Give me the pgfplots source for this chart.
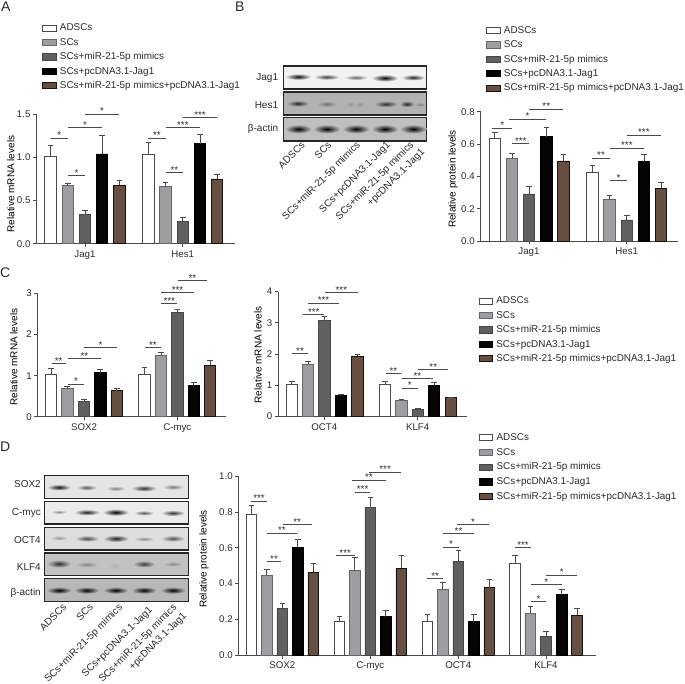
\documentclass[border=0pt]{standalone}
\usepackage{fontspec}
\setmainfont{Liberation Sans}
\usepackage{pgfplots}
\pgfplotsset{compat=1.18}
\definecolor{axc}{HTML}{4A4A4A}
\definecolor{txt}{HTML}{2A2A2A}
\definecolor{cB}{HTML}{9E9EA2}
\definecolor{cC}{HTML}{606060}
\definecolor{cD}{HTML}{050303}
\definecolor{cE}{HTML}{664E40}
\pgfplotsset{
 swatch/.style={legend image code/.code={\draw[##1,line width=0.9pt] (0pt,-3.1pt) rectangle (13.4pt,3.1pt);}},
 s1/.style={draw=axc,fill=white},
 s2/.style={draw=black!60,fill=cB},
 s3/.style={draw=black!72,fill=cC},
 s4/.style={draw=black,fill=cD},
 s5/.style={draw=black!78!cE,fill=cE},
 panel/.style={scale only axis,axis lines=left,axis line style={-,draw=axc,line width=0.9pt},clip=false,ymin=0,
  tick align=outside,major tick length=3.5pt,tick style={draw=axc,line width=0.8pt},minor tick num=0,
  tick label style={font=\fontsize{9.7}{11}\selectfont,text=txt},
  yticklabel style={/pgf/number format/assume math mode=true,/pgf/number format/fixed,/pgf/number format/fixed zerofill,/pgf/number format/precision=1,xshift=1pt},
  label style={font=\fontsize{10.45}{12}\selectfont,text=txt},
  legend cell align=left,
  legend style={draw=none,fill=none,inner sep=0pt,outer sep=0pt,anchor=north west,
    font=\fontsize{9.9}{11}\selectfont,text=txt,
    nodes={inner sep=0pt,text height=7.4pt,text depth=2pt},
    /tikz/column 1/.style={column sep=3.3pt}}},
 rowgap/.style={legend style={row sep=#1}},
 intlab/.style={yticklabel style={/pgf/number format/precision=0,/pgf/number format/fixed zerofill=false}},
 yl/.style 2 args={every axis y label/.style={at={(axis cs:#1,#2)},rotate=90,anchor=center}}
}
\newcommand{\bars}[3]{\addplot[ybar,bar shift=0pt,bar width=#2pt,#1,line width=0.9pt,swatch,
   error bars/.cd,y dir=plus,y explicit,error bar style={draw=axc,line width=0.8pt,solid},
   error mark options={rotate=90,mark size=2.8pt,line width=0.8pt,draw=axc}] coordinates {#3};}
\newcommand{\sig}[4]{\addplot[forget plot,draw=axc,line width=0.7pt] coordinates {(#1,#3)(#2,#3)};
   \node[font=\fontsize{9.8}{10}\selectfont,text=txt,inner sep=0pt,yshift=2.7pt] at (axis cs:{(#1+#2)/2},#3) {#4};}
\newcommand{\legentries}{\addlegendentry{ADSCs}\addlegendentry{SCs}\addlegendentry{SCs+miR-21-5p mimics}\addlegendentry{SCs+pcDNA3.1-Jag1}\addlegendentry{SCs+miR-21-5p mimics+pcDNA3.1-Jag1}}
\newcommand{\band}[5]{\shade[inner color=black!#5,outer color=\bg] (#1,#2) ellipse (#3pt and #4pt);}
\newcommand{\blot}[4]{\def\bg{#4}\draw[line width=1.3pt,black!85,fill=\bg] (#1,#2) rectangle (#3);}
\begin{document}
\begin{tikzpicture}[font=\fontsize{10}{12}\selectfont]
\useasboundingbox (0pt,0pt) rectangle (685pt,683pt);
%----------------------- A
\begin{axis}[panel,rowgap=5pt,at={(36.5pt,439.3pt)},anchor=south west,width=198.5pt,height=129.4pt,
 xmin=36.5,xmax=235,ymax=1.5,ytick={0,0.5,1,1.5},xtick={85,182.7},xticklabels={Jag1,\raisebox{-3pt}{Hes1}},
 ylabel={Relative mRNA levels},yl={10.7}{0.692},
 legend style={at={(axis cs:42.3,2.552)}}]
\bars{s1}{11.3}{(50.5,1.01) +- (0,.13) (148.3,1.04) +- (0,.13)}
\bars{s2}{11.3}{(67.8,.67) +- (0,.03) (165.3,.66) +- (0,.05)}
\bars{s3}{11.3}{(85,.34) +- (0,.05) (182.7,.26) +- (0,.05)}
\bars{s4}{11.3}{(102,1.04) +- (0,.21) (200,1.16) +- (0,.11)}
\bars{s5}{11.3}{(119.3,.68) +- (0,.05) (217,.75) +- (0,.05)}
\legentries
\sig{50.7}{67.7}{1.225}{*}\sig{68}{85.3}{.789}{*}\sig{68}{102}{1.345}{*}\sig{85.3}{119}{1.5}{*}
\sig{148.3}{165.7}{1.225}{**}\sig{165.7}{183}{.827}{**}\sig{165.7}{200}{1.345}{***}\sig{183}{217}{1.46}{***}
\end{axis}
%----------------------- B
\begin{axis}[panel,rowgap=5pt,at={(480.7pt,442pt)},anchor=south west,width=197pt,height=129.3pt,
 xmin=480.7,xmax=677.7,ymax=.8,ytick={0,.2,.4,.6,.8},xtick={529,626.7},xticklabels={Jag1,\raisebox{-1.5pt}{Hes1}},
 ylabel={Relative protein levels},yl={453}{.384},
 legend style={at={(axis cs:486.3,1.331)}}]
\bars{s1}{11.3}{(494.7,.637) +- (0,.035) (592.3,.423) +- (0,.045)}
\bars{s2}{11.3}{(512,.511) +- (0,.031) (609.3,.254) +- (0,.026)}
\bars{s3}{11.3}{(529,.291) +- (0,.045) (626.7,.13) +- (0,.027)}
\bars{s4}{11.3}{(546.3,.645) +- (0,.055) (644,.493) +- (0,.043)}
\bars{s5}{11.3}{(563.3,.495) +- (0,.043) (661,.326) +- (0,.035)}
\legentries
\sig{492.3}{512.3}{.70}{*}\sig{512.3}{529.3}{.602}{***}\sig{509.3}{546}{.755}{*}\sig{529.3}{563.3}{.816}{**}
\sig{592.3}{609.7}{.513}{**}\sig{609.7}{627.3}{.375}{*}\sig{609.7}{644}{.575}{***}\sig{626.7}{661}{.656}{***}
\end{axis}
%----------------------- C left
\begin{axis}[panel,intlab,at={(37.7pt,266.1pt)},anchor=south west,width=188.3pt,height=123.6pt,
 xmin=37.7,xmax=226,ymax=3,ytick={0,1,2,3},xtick={84,177.3},xticklabels={\raisebox{-1pt}{SOX2},C-myc},
 ylabel={Relative mRNA levels},yl={13.7}{1.454}]
\bars{s1}{11.3}{(51,1.04) +- (0,.13) (144.3,1.02) +- (0,.18)}
\bars{s2}{11.3}{(67.3,.68) +- (0,.05) (161,1.5) +- (0,.07)}
\bars{s3}{11.3}{(84,.38) +- (0,.05) (177.3,2.53) +- (0,.08)}
\bars{s4}{11.3}{(100.3,1.07) +- (0,.09) (193.7,.77) +- (0,.07)}
\bars{s5}{11.3}{(116.7,.64) +- (0,.05) (210,1.25) +- (0,.11)}
\sig{51.7}{65.7}{1.29}{**}\sig{68}{84}{.80}{*}\sig{68}{100.7}{1.42}{**}\sig{84.3}{116.7}{1.68}{*}
\sig{144.7}{161}{1.68}{**}\sig{161.3}{177.3}{2.75}{***}\sig{161.3}{193.7}{3.02}{***}\sig{177.7}{207.3}{3.31}{**}
\end{axis}
%----------------------- C right
\begin{axis}[panel,intlab,rowgap=5pt,at={(278.3pt,266.6pt)},anchor=south west,width=188.4pt,height=124.8pt,
 xmin=278.3,xmax=466.7,ymax=4,ytick={0,1,2,3,4},xtick={324.3,417.7},xticklabels={OCT4,\raisebox{-1pt}{KLF4}},
 ylabel={Relative mRNA levels},yl={258}{1.97},
 legend style={at={(axis cs:478.7,3.843)}}]
\bars{s1}{11.3}{(291.7,1.03) +- (0,.10) (385,1.03) +- (0,.09)}
\bars{s2}{11.3}{(308,1.68) +- (0,.08) (401.3,.52) +- (0,.03)}
\bars{s3}{11.3}{(324.3,3.06) +- (0,.14) (417.7,.22) +- (0,.03)}
\bars{s4}{11.3}{(340.7,.67) +- (0,.03) (434,1.0) +- (0,.09)}
\bars{s5}{11.3}{(357.3,1.92) +- (0,.07) (450.7,.6) +- (0,.02)}
\legentries
\sig{292.3}{307.7}{2.01}{**}\sig{303.3}{324.3}{3.26}{***}\sig{307.7}{339.3}{3.63}{***}\sig{325}{357.7}{3.96}{***}
\sig{385.7}{401}{1.37}{**}\sig{401.7}{417.7}{.91}{*}\sig{401.7}{433}{1.21}{**}\sig{418.3}{448.3}{1.5}{**}
\end{axis}
%----------------------- D
\begin{axis}[panel,rowgap=5.4pt,at={(238.7pt,28pt)},anchor=south west,width=357.3pt,height=178.7pt,
 xmin=238.7,xmax=596,ymax=1,ytick={0,.2,.4,.6,.8,1},xtick={282.3,370.3,458.3,546},xticklabels={\raisebox{-1pt}{SOX2},C-myc,OCT4,KLF4},
 ylabel={Relative protein levels},yl={204}{.537},
 legend style={at={(axis cs:479,1.243)}}]
\bars{s1}{10.7}{(251.3,.787) +- (0,.051) (339.3,.187) +- (0,.029) (427.3,.188) +- (0,.04) (515,.513) +- (0,.043)}
\bars{s2}{10.7}{(266.7,.446) +- (0,.032) (354.7,.472) +- (0,.075) (442.7,.368) +- (0,.039) (530.3,.233) +- (0,.037)}
\bars{s3}{10.7}{(282.3,.259) +- (0,.03) (370.3,.825) +- (0,.059) (458.3,.522) +- (0,.064) (546,.104) +- (0,.028)}
\bars{s4}{10.7}{(297.7,.603) +- (0,.046) (385.7,.215) +- (0,.037) (473.7,.185) +- (0,.041) (561.7,.338) +- (0,.028)}
\bars{s5}{10.7}{(313.3,.463) +- (0,.05) (401.3,.485) +- (0,.071) (489.3,.377) +- (0,.048) (577,.222) +- (0,.037)}
\legentries
\sig{251.3}{266.7}{.86}{***}\sig{266.7}{281.3}{.524}{**}\sig{267}{296.7}{.681}{**}\sig{282.7}{311.7}{.731}{**}
\sig{335.7}{354.7}{.556}{***}\sig{355}{370.3}{.912}{***}\sig{352}{385.7}{.978}{**}\sig{369}{401.3}{1.024}{***}
\sig{427.3}{443}{.427}{**}\sig{443.3}{458.7}{.604}{*}\sig{443}{474}{.679}{**}\sig{456.7}{489.3}{.731}{*}
\sig{515.3}{530.7}{.601}{***}\sig{531}{546.3}{.30}{*}\sig{531}{561.7}{.394}{*}\sig{546.3}{577.3}{.448}{*}
\end{axis}
%----------------------- blots and letters, in image pixels
\begin{scope}[x=1pt,y=-1pt,shift={(0pt,683pt)},every node/.style={text=txt,inner sep=0pt}]
\node[font=\fontsize{14}{16}\selectfont,anchor=west] at (1,7) {A};
\node[font=\fontsize{14}{16}\selectfont,anchor=west] at (235,7) {B};
\node[font=\fontsize{14}{16}\selectfont,anchor=west] at (0,273) {C};
\node[font=\fontsize{14}{16}\selectfont,anchor=west] at (0,447) {D};
% B blot
\blot{283.3}{66}{426.7,89}{black!5}
\band{298.3}{76.7}{13}{3.2}{95}\band{326.7}{77}{13}{2.8}{75}\band{356}{77.5}{12}{2.6}{60}\band{385}{78}{13.5}{3.6}{97}\band{413.3}{77.5}{12}{3}{85}
\blot{283.3}{92}{426.7,115}{black!30}
\band{298}{103.5}{11}{3.2}{85}\band{327}{104}{10}{3}{55}\band{350.5}{104.5}{4.5}{2.6}{42}\band{360}{104.5}{4.5}{2.6}{42}\band{386}{104}{12}{3.2}{82}\band{407}{104}{7.5}{3.2}{85}\band{420}{104.5}{5.5}{2}{50}
\blot{283.3}{117.7}{426.7,141}{black!25}
\foreach \x in {298.3,326.7,356,385,413.3}{\band{\x}{129}{13.5}{4.5}{100}}
\node[anchor=east] at (278.3,77.7) {Jag1};
\node[anchor=east] at (278.3,104.7) {Hes1};
\node[anchor=east] at (278.3,129.3) {β-actin};
\node[rotate=45,anchor=north east] at (300.5,141) {ADSCs};
\node[rotate=45,anchor=north east] at (327,141) {SCs};
\node[rotate=45,anchor=north east] at (355.5,140.5) {SCs+miR-21-5p mimics};
\node[rotate=45,anchor=north east] at (385.5,140.5) {SCs+pcDNA3.1-Jag1};
\node[rotate=45,anchor=north east] at (409,140.5) {SCs+miR-21-5p mimics};
\node[rotate=45,anchor=north east] at (420,147.5) {+pcDNA3.1-Jag1};
% D blot
\blot{44.3}{475.3}{188.7,498.3}{black!10}
\band{59}{487.3}{12}{3.2}{92}\band{86.7}{487.5}{10}{2.8}{65}\band{115.7}{488.5}{10}{2.5}{50}\band{144}{488.3}{13}{3.2}{80}\band{173}{487}{11}{2.8}{50}
\blot{44.3}{501.7}{188.7,524}{black!8}
\band{59}{512}{8}{2}{45}\band{87}{512.3}{13}{3}{88}\band{115.7}{512.3}{13}{3.5}{100}\band{144}{513}{10}{2.5}{65}\band{173}{513}{12}{3}{80}
\blot{44.3}{527.3}{188.7,550}{black!13}
\band{59}{538}{9}{2.5}{40}\band{87}{538.5}{12}{3.2}{72}\band{116}{538.5}{13}{3.5}{88}\band{144}{539}{10}{2.5}{45}\band{173}{538.5}{12}{3.2}{68}
\blot{44.3}{553}{188.7,575.7}{black!24}
\band{59}{563.7}{12}{4}{82}\band{86.7}{564.5}{11}{3}{48}\band{115}{566}{6}{3.5}{30}\band{144}{564}{11}{3.5}{75}\band{173}{564}{10}{2.5}{45}
\blot{44.3}{578.3}{188.7,601.3}{black!28}
\foreach \x in {59,86.7,115.7,144,173}{\band{\x}{590.3}{12.5}{3.5}{100}}
\node[anchor=east] at (41,484) {SOX2};
\node[anchor=east] at (41,512.7) {C-myc};
\node[anchor=east] at (41,540.3) {OCT4};
\node[anchor=east] at (41,566.7) {KLF4};
\node[anchor=east] at (41,593.3) {β-actin};
\node[rotate=45,anchor=north east] at (62,603) {ADSCs};
\node[rotate=45,anchor=north east] at (88.7,603) {SCs};
\node[rotate=45,anchor=north east] at (117.7,603) {SCs+miR-21-5p mimics};
\node[rotate=45,anchor=north east] at (148,605) {SCs+pcDNA3.1-Jag1};
\node[rotate=45,anchor=north east] at (172,603) {SCs+miR-21-5p mimics};
\node[rotate=45,anchor=north east] at (182,611) {+pcDNA3.1-Jag1};
\end{scope}
\end{tikzpicture}
\end{document}
